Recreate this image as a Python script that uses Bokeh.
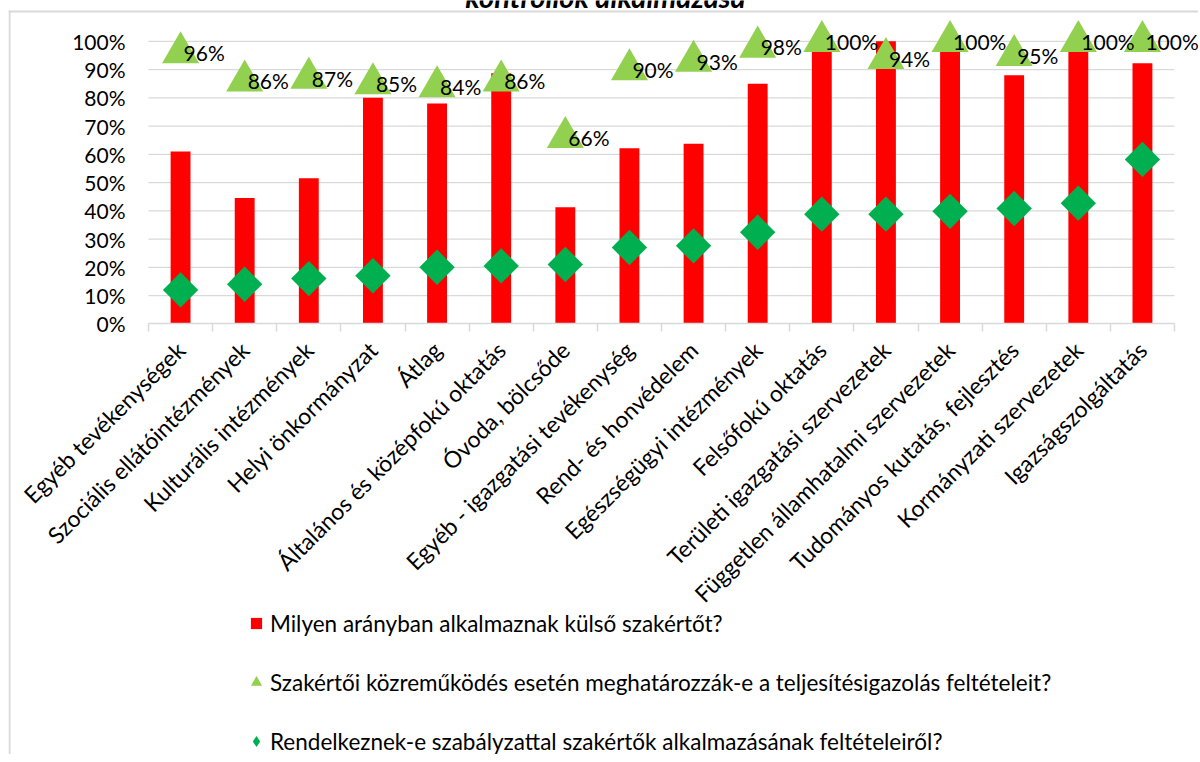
import math
from bokeh.plotting import figure
from bokeh.models import (ColumnDataSource, FixedTicker, NumeralTickFormatter, Legend,
                          LegendItem, Label, Range1d, BoxAnnotation)
from bokeh.core.properties import value
from bokeh.embed import file_html
from bokeh.resources import INLINE

# ---------------- data ----------------
categories = [
    "Egyéb tevékenységek", "Szociális ellátóintézmények", "Kulturális intézmények",
    "Helyi önkormányzat", "Átlag", "Általános és középfokú oktatás", "Óvoda, bölcsőde",
    "Egyéb - igazgatási tevékenység", "Rend- és honvédelem", "Egészségügyi intézmények",
    "Felsőfokú oktatás", "Területi igazgatási szervezetek", "Független államhatalmi szervezetek",
    "Tudományos kutatás, fejlesztés", "Kormányzati szervezetek", "Igazságszolgáltatás",
]
kulso_szakerto = [0.61, 0.445, 0.515, 0.80, 0.78, 0.887, 0.413, 0.621, 0.637, 0.85,
                  1.0, 1.0, 1.0, 0.88, 1.0, 0.922]
teljesitesigazolas = [0.96, 0.86, 0.87, 0.85, 0.84, 0.86, 0.66, 0.90, 0.93, 0.98,
                      1.0, 0.94, 1.0, 0.95, 1.0, 1.0]
szabalyzat = [0.12, 0.14, 0.16, 0.17, 0.20, 0.205, 0.21, 0.27, 0.276, 0.324,
              0.388, 0.388, 0.398, 0.408, 0.427, 0.582]
y_ticks = [0.0, 0.1, 0.2, 0.3, 0.4, 0.5, 0.6, 0.7, 0.8, 0.9, 1.0]
series_names = [
    "Milyen arányban alkalmaznak külső szakértőt?",
    "Szakértői közreműködés esetén meghatározzák-e a teljesítésigazolás feltételeit?",
    "Rendelkeznek-e szabályzattal szakértők alkalmazásának feltételeiről?",
]
title_text = "kontrollok alkalmazása"

# ---------------- styling / geometry ----------------
FONT = "Lato"
RED = "#FF0000"
LIGHT_GREEN = "#92D050"
GREEN = "#00B050"
GRID = "#D9D9D9"
N = len(categories)
FIG_W, FIG_H = 1190, 754
PX_PER_UNIT = 282.5          # vertical pixels per 100 %
ZERO_Y = 323.3               # pixel row of the 0 % line
PX_PER_CAT = 64.125          # horizontal pixels per category
AXIS_X = 140                 # pixel column of the value axis


def px_x(px):
    return (px - AXIS_X) / PX_PER_CAT


def px_y(py):
    return (ZERO_Y - py) / PX_PER_UNIT


xpos = [i + 0.5 for i in range(N)]
src = ColumnDataSource(dict(
    x=xpos,
    bar=kulso_szakerto,
    tri=teljesitesigazolas,
    dia=szabalyzat,
    lbl=[f"{round(v * 100)}%" for v in teljesitesigazolas],
))
grid_src = ColumnDataSource(dict(y=y_ticks[1:], x0=[0] * (len(y_ticks) - 1),
                                 x1=[N] * (len(y_ticks) - 1)))

p = figure(width=FIG_W, height=FIG_H, output_backend="svg", toolbar_location=None,
           x_range=Range1d(px_x(0), px_x(FIG_W)),
           y_range=Range1d(px_y(FIG_H), px_y(0)),
           min_border_left=0, min_border_right=0, min_border_top=0,
           min_border_bottom=0, margin=(0, 0, 0, 8))
p.outline_line_color = None
p.background_fill_color = "white"
p.border_fill_color = "white"

# chart-area border (Excel chart frame: top and left edge)
p.add_layout(BoxAnnotation(left=px_x(0), right=None, top=px_y(10), bottom=px_y(12),
                           fill_color=GRID, fill_alpha=1, line_color=None))
p.add_layout(BoxAnnotation(left=px_x(0), right=px_x(2), top=px_y(10), bottom=None,
                           fill_color=GRID, fill_alpha=1, line_color=None))

# gridlines (only across the category span, as in the original)
p.segment(x0="x0", x1="x1", y0="y", y1="y", source=grid_src, line_color=GRID, line_width=1.3)

bars = p.vbar(x="x", top="bar", width=0.31, source=src, fill_color=RED, line_color=None)
diam = p.scatter(x="x", y="dia", source=src, marker="square", angle=math.pi / 4,
                 size=25, fill_color=GREEN, line_color=None)
tris = p.scatter(x="x", y="tri", source=src, marker="triangle", size=37,
                 fill_color=LIGHT_GREEN, line_color=None)
p.text(x="x", y="tri", text="lbl", source=src, x_offset=3, text_align="left",
       text_baseline="middle", text_font=value(FONT), text_font_size="21px",
       text_color="black")

# axes
p.xgrid.visible = False
p.ygrid.visible = False

p.yaxis.fixed_location = 0
p.yaxis.ticker = FixedTicker(ticks=y_ticks)
p.yaxis.formatter = NumeralTickFormatter(format="0%")
p.yaxis.axis_line_color = None
p.yaxis.major_tick_line_color = None
p.yaxis.minor_tick_line_color = None
p.yaxis.major_tick_out = 0
p.yaxis.major_label_standoff = 23
p.yaxis.major_label_text_font = FONT
p.yaxis.major_label_text_font_size = "21px"
p.yaxis.major_label_text_color = "black"

p.xaxis.fixed_location = 0
p.xaxis.ticker = FixedTicker(ticks=xpos, minor_ticks=list(range(N + 1)))
p.xaxis.bounds = (0, N)
p.xaxis.major_label_overrides = {x: c for x, c in zip(xpos, categories)}
p.xaxis.major_label_orientation = math.pi / 4
p.xaxis.axis_line_color = GRID
p.xaxis.axis_line_width = 1.5
p.xaxis.major_tick_line_color = None
p.xaxis.major_tick_out = 0
p.xaxis.minor_tick_line_color = GRID
p.xaxis.minor_tick_line_width = 1.5
p.xaxis.minor_tick_out = 8
p.xaxis.minor_tick_in = 0
p.xaxis.major_label_standoff = 14
p.xaxis.major_label_text_font = FONT
p.xaxis.major_label_text_font_size = "23px"
p.xaxis.major_label_text_color = "black"

# legend proxies (NaN point: nothing is drawn on the chart)
nan = float("nan")
proxy = ColumnDataSource(dict(x=[nan], y=[nan]))
leg_sq = p.scatter(x="x", y="y", source=proxy, marker="square", fill_color=RED, line_color=None)
leg_tr = p.scatter(x="x", y="y", source=proxy, marker="triangle", fill_color=LIGHT_GREEN, line_color=None)
leg_di = p.scatter(x="x", y="y", source=proxy, marker="diamond", fill_color=GREEN, line_color=None)
legend = Legend(items=[LegendItem(label=series_names[0], renderers=[leg_sq]),
                       LegendItem(label=series_names[1], renderers=[leg_tr]),
                       LegendItem(label=series_names[2], renderers=[leg_di])],
                location=(234, -1), orientation="vertical",
                glyph_width=28, glyph_height=28, label_height=28, spacing=31,
                label_standoff=0, padding=0, margin=0,
                label_text_font=FONT, label_text_font_size="22.5px", label_text_color="black",
                border_line_color=None, background_fill_alpha=0)
p.add_layout(legend)

# clipped title (only its lower part visible, as in the reference)
p.add_layout(Label(x=px_x(605 - 8), y=px_y(-4.5),
                   text=title_text, text_align="center",
                   text_baseline="alphabetic", text_font=FONT, text_font_style="bold italic",
                   text_font_size="29px", text_color="black"))

open("out.html", "w").write(file_html(p, INLINE))
